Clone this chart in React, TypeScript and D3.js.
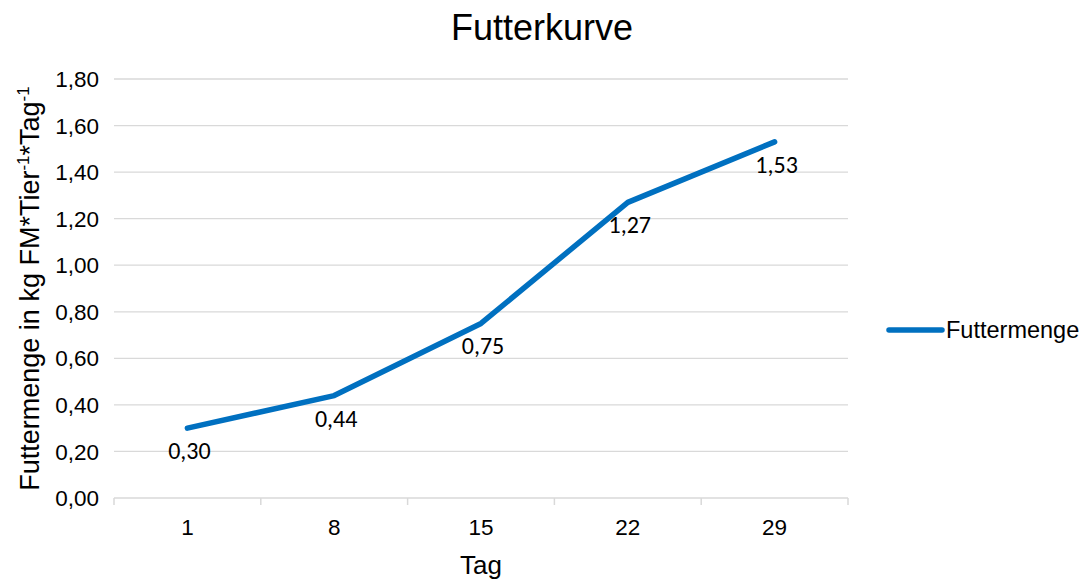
import React from "react";
import * as d3 from "d3";

const days = ["1", "8", "15", "22", "29"];
const futtermenge = [0.3, 0.44, 0.75, 1.27, 1.53];
const yTicks = [0, 0.2, 0.4, 0.6, 0.8, 1.0, 1.2, 1.4, 1.6, 1.8];
const seriesName = "Futtermenge";
const title = "Futterkurve";
const xTitle = "Tag";

const W = 1084;
const H = 581;
const left = 114;
const right = 848;
const top = 79;
const bottom = 498;
const blue = "#0070C0";
const grid = "#d9d9d9";
const ARIAL = "Arial, 'Liberation Sans', sans-serif";
const LABELFONT = "Carlito, Calibri, Lato, sans-serif";

const fmt = (v: number) => v.toFixed(2).replace(".", ",");

export default function App() {
  const x = d3.scaleBand<string>().domain(days).range([left, right]);
  const y = d3.scaleLinear().domain([0, 1.8]).range([bottom, top]);
  const cx = (d: string) => (x(d) as number) + x.bandwidth() / 2;
  const line = d3
    .line<number>()
    .x((_, i) => cx(days[i]))
    .y((v) => y(v));
  const boundaries = [...days.map((d) => x(d) as number), right];

  return (
    <div style={{ position: "absolute", left: 0, top: 0 }}>
      <svg width={W} height={H} style={{ display: "block", background: "#fff" }}>
        <text x={542} y={40} textAnchor="middle" fontFamily={ARIAL} fontSize={36} fill="#000">
          {title}
        </text>
        {yTicks.map((t) => (
          <g key={t}>
            {t !== 0 && (
              <line x1={left} x2={right} y1={y(t)} y2={y(t)} stroke={grid} strokeWidth={1.3} />
            )}
            <text
              x={99}
              y={y(t)}
              dy="0.36em"
              textAnchor="end"
              fontFamily={ARIAL}
              fontSize={22.5}
              fill="#000"
            >
              {fmt(t)}
            </text>
          </g>
        ))}
        <line x1={left} x2={right} y1={bottom} y2={bottom} stroke={grid} strokeWidth={1.5} />
        {boundaries.map((b, i) => (
          <line key={i} x1={b} x2={b} y1={bottom} y2={bottom + 7} stroke={grid} strokeWidth={1.5} />
        ))}
        {days.map((d) => (
          <text
            key={d}
            x={cx(d)}
            y={535}
            textAnchor="middle"
            fontFamily={ARIAL}
            fontSize={22.5}
            fill="#000"
          >
            {d}
          </text>
        ))}
        <text x={481} y={574} textAnchor="middle" fontFamily={ARIAL} fontSize={26} fill="#000">
          {xTitle}
        </text>
        <text
          transform={`translate(39, ${(top + bottom) / 2}) rotate(-90)`}
          textAnchor="middle"
          fontFamily={ARIAL}
          fontSize={27}
          fill="#000"
        >
          Futtermenge in kg FM*Tier
          <tspan fontSize={17} dy={-10}>-1</tspan>
          <tspan dy={10}>*Tag</tspan>
          <tspan fontSize={17} dy={-10}>-1</tspan>
        </text>
        <path
          d={line(futtermenge) || ""}
          fill="none"
          stroke={blue}
          strokeWidth={5.5}
          strokeLinecap="round"
          strokeLinejoin="round"
        />
        {futtermenge.map((v, i) => (
          <text
            key={i}
            x={cx(days[i]) + 2}
            y={y(v) + 31}
            textAnchor="middle"
            fontFamily={LABELFONT}
            fontSize={24}
            fill="#000"
          >
            {fmt(v)}
          </text>
        ))}
        <line x1={889} x2={942} y1={330} y2={330} stroke={blue} strokeWidth={5.5} strokeLinecap="round" />
        <text x={946} y={338} fontFamily={ARIAL} fontSize={23.5} fill="#000">
          {seriesName}
        </text>
      </svg>
    </div>
  );
}
